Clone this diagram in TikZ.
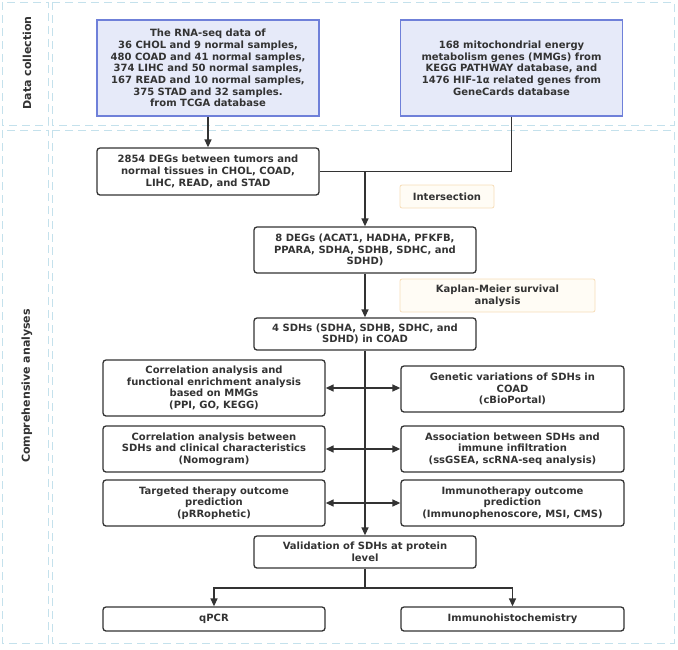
\documentclass[tikz,border=0pt]{standalone}
\usepackage{fontspec}
\setmainfont{DejaVu Sans}
\usepackage{tikz}
\usepackage{xcolor}
\usetikzlibrary{arrows.meta}
\definecolor{framecol}{HTML}{C4E1EC}
\definecolor{linegray}{HTML}{333333}
\definecolor{srcblue}{HTML}{6F80D9}
\definecolor{srcfill}{HTML}{E6EAF9}
\definecolor{tagline}{HTML}{F6DDB8}
\definecolor{tagfill}{HTML}{FFFCF5}

\begin{document}
\begin{tikzpicture}[x=1pt,y=-1pt,
  every node/.style={font=\bfseries\fontsize{10}{11.7}\selectfont,align=center,text=linegray,inner sep=2pt},
  box/.style={draw=linegray,line width=1.3pt,rounded corners=3pt},
  srcbox/.style={draw=srcblue,fill=srcfill,line width=1.2pt,minimum width=222pt,minimum height=96pt},
  tag/.style={draw=tagline,fill=tagfill,line width=0.8pt,rounded corners=2pt},
  cell/.style={draw=framecol,dash pattern=on 8pt off 5pt,line width=0.9pt},
  flow/.style={draw=linegray,line width=1.4pt},
  tip/.style={-{Triangle[length=8pt,width=7pt]}},
  both/.style={{Triangle[length=8pt,width=7pt]}-{Triangle[length=8pt,width=7pt]}}]
\useasboundingbox (0,0) rectangle (678,649);
\draw[cell] (2,2) rectangle (48,125);
\draw[cell] (52,2) rectangle (674,125);
\draw[cell] (2,130) rectangle (48,643);
\draw[cell] (52,130) rectangle (674,643);
\node[rotate=90,font=\bfseries\fontsize{11}{13}\selectfont] (labdata) at (27,63) {Data collection};
\node[rotate=90,font=\bfseries\fontsize{11}{13}\selectfont] (labana) at (27,386) {Comprehensive analyses};

\node[srcbox] (rna) at (208,68) {The RNA-seq data of\\36 CHOL and 9 normal samples,\\480 COAD and 41 normal samples,\\374 LIHC and 50 normal samples,\\167 READ and 10 normal samples,\\375 STAD and 32 samples.\\from TCGA database};
\node[srcbox] (mmg) at (511.5,68) {168 mitochondrial energy\\metabolism genes (MMGs) from\\KEGG PATHWAY database, and\\1476 HIF-1α related genes from\\GeneCards database};
\node[box,minimum width=222pt,minimum height=47pt] (degs) at (208,171.5) {2854 DEGs between tumors and\\normal tissues in CHOL, COAD,\\LIHC, READ, and STAD};
\node[tag,minimum width=94pt,minimum height=23pt] (isect) at (447,196.5) {Intersection};
\node[box,minimum width=222pt,minimum height=46pt] (eight) at (365,250) {8 DEGs (ACAT1, HADHA, PFKFB,\\PPARA, SDHA, SDHB, SDHC, and\\SDHD)};
\node[tag,minimum width=195pt,minimum height=33pt] (km) at (497.5,295.5) {Kaplan-Meier survival\\analysis};
\node[box,minimum width=222pt,minimum height=32pt] (four) at (365,334) {4 SDHs (SDHA, SDHB, SDHC, and\\SDHD) in COAD};

\node[box,minimum width=222pt,minimum height=56pt] (corr) at (214,388) {Correlation analysis and\\functional enrichment analysis\\based on MMGs\\(PPI, GO, KEGG)};
\node[box,minimum width=222pt,minimum height=46pt] (clin) at (214,449) {Correlation analysis between\\SDHs and clinical characteristics\\(Nomogram)};
\node[box,minimum width=222pt,minimum height=46pt] (drug) at (214,503) {Targeted therapy outcome\\prediction\\(pRRophetic)};
\node[box,minimum width=223pt,minimum height=46pt] (gen) at (512.5,389) {Genetic variations of SDHs in\\COAD\\(cBioPortal)};
\node[box,minimum width=223pt,minimum height=46pt] (immu) at (512.5,449) {Association between SDHs and\\immune infiltration\\(ssGSEA, scRNA-seq analysis)};
\node[box,minimum width=223pt,minimum height=46pt] (ther) at (512.5,503) {Immunotherapy outcome\\prediction\\(Immunophenoscore, MSI, CMS)};

\node[box,minimum width=222pt,minimum height=32pt] (valid) at (365,552) {Validation of SDHs at protein\\level};
\node[box,minimum width=222pt,minimum height=24pt] (qpcr) at (214,619) {qPCR};
\node[box,minimum width=223pt,minimum height=24pt] (ihc) at (512.5,619) {Immunohistochemistry};

\draw[flow,tip] (rna) -- (degs);
\draw[flow] (mmg) |- (degs);
\coordinate (meet) at (eight |- degs);
\draw[flow,tip] (meet) -- (eight);
\draw[flow,tip] (eight) -- (four);
\draw[flow,tip] (four) -- (valid);
\draw[flow,both] (corr.east) -- (corr.east -| gen.west);
\draw[flow,both] (clin.east) -- (clin.east -| immu.west);
\draw[flow,both] (drug.east) -- (drug.east -| ther.west);
\coordinate (fork) at (365,588);
\draw[flow] (valid) -- (fork);
\draw[flow,tip] (fork) -| (qpcr);
\draw[flow,tip] (fork) -| (ihc);
\end{tikzpicture}
\end{document}
